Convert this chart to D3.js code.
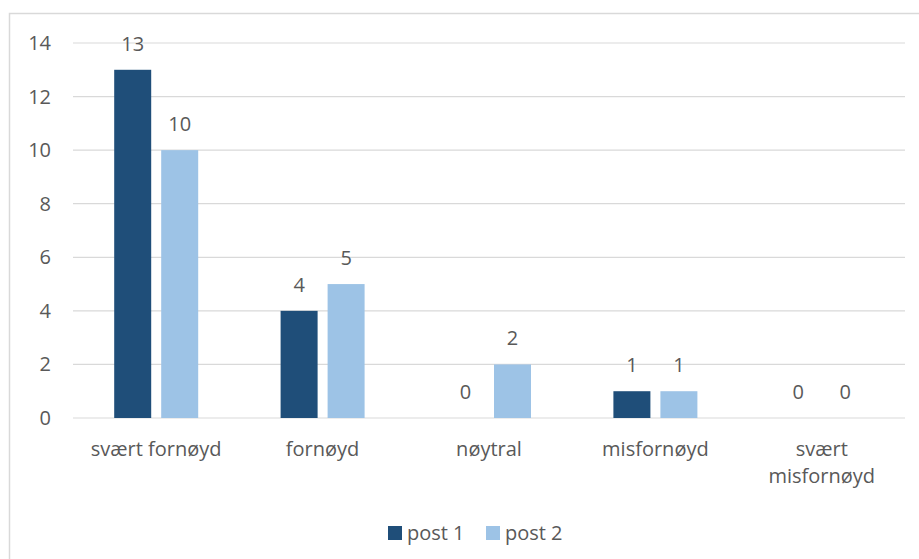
<!DOCTYPE html>
<html>
<head>
<meta charset="utf-8">
<script src="https://cdn.jsdelivr.net/npm/d3@7"></script>
<style>
  body { margin: 0; background: #fff; }
  text { font-family: "Open Sans", "Noto Sans", sans-serif; fill: #595959; }
</style>
</head>
<body>
<svg id="chart" width="919" height="559"></svg>
<script>
const categories = ["svært fornøyd", "fornøyd", "nøytral", "misfornøyd", "svært misfornøyd"];
const seriesNames = ["post 1", "post 2"];
const post1 = [13, 4, 0, 1, 0];
const post2 = [10, 5, 2, 1, 0];
const yTicks = [0, 2, 4, 6, 8, 10, 12, 14];
const colors = ["#1f4e79", "#9dc3e6"];
const fs = "20px";

const svg = d3.select("#chart");

// ramme rundt diagrammet
svg.append("rect")
    .attr("x", 9.5).attr("y", 13.5)
    .attr("width", 920).attr("height", 560)
    .attr("fill", "none")
    .attr("stroke", "#d9d9d9")
    .attr("stroke-width", 1.5);

const plotL = 73, plotR = 905, plotT = 43, plotB = 418;

const x = d3.scaleBand().domain(categories).range([plotL, plotR]);
const y = d3.scaleLinear().domain([0, 14]).range([plotB, plotT]);
const barW = 37, gap = 10;
const xs = d3.scaleOrdinal().domain(seriesNames).range([-gap / 2 - barW, gap / 2]);

// rutenett
svg.append("g").selectAll("line")
    .data(yTicks)
    .join("line")
    .attr("x1", plotL).attr("x2", plotR)
    .attr("y1", d => y(d)).attr("y2", d => y(d))
    .attr("stroke", "#d9d9d9")
    .attr("stroke-width", 1.2);

// y-akse tekst
svg.append("g").selectAll("text")
    .data(yTicks)
    .join("text")
    .attr("x", 51)
    .attr("y", d => y(d))
    .attr("dy", "0.35em")
    .attr("text-anchor", "end")
    .style("font-size", fs)
    .text(d => d);

const series = [post1, post2];
series.forEach((vals, si) => {
    const g = svg.append("g");
    const data = categories.map((c, i) => ({ c, v: vals[i] }));
    g.selectAll("rect")
        .data(data)
        .join("rect")
        .attr("x", d => x(d.c) + x.bandwidth() / 2 + xs(seriesNames[si]))
        .attr("y", d => y(d.v))
        .attr("width", barW)
        .attr("height", d => y(0) - y(d.v))
        .attr("fill", colors[si]);
    g.selectAll("text")
        .data(data)
        .join("text")
        .attr("x", d => x(d.c) + x.bandwidth() / 2 + xs(seriesNames[si]) + barW / 2)
        .attr("y", d => y(d.v) - 26)
        .attr("dy", "0.35em")
        .attr("text-anchor", "middle")
        .style("font-size", fs)
        .text(d => d.v);
});

// kategori-tekst, bryt lange navn
const wrap = { "svært misfornøyd": ["svært", "misfornøyd"] };
svg.append("g").selectAll("text")
    .data(categories)
    .join("text")
    .attr("text-anchor", "middle")
    .style("font-size", fs)
    .each(function (d) {
        const lines = wrap[d] || [d];
        const t = d3.select(this);
        lines.forEach((l, i) => {
            t.append("tspan")
                .attr("x", x(d) + x.bandwidth() / 2)
                .attr("y", 456 + i * 27)
                .text(l);
        });
    });

// forklaring
const legend = svg.append("g");
const legendX = [388, 486];
seriesNames.forEach((s, i) => {
    legend.append("rect")
        .attr("x", legendX[i]).attr("y", 526)
        .attr("width", 14).attr("height", 14)
        .attr("fill", colors[i]);
    legend.append("text")
        .attr("x", legendX[i] + 19).attr("y", 533)
        .attr("dy", "0.35em")
        .style("font-size", fs)
        .text(s);
});
</script>
</body>
</html>
